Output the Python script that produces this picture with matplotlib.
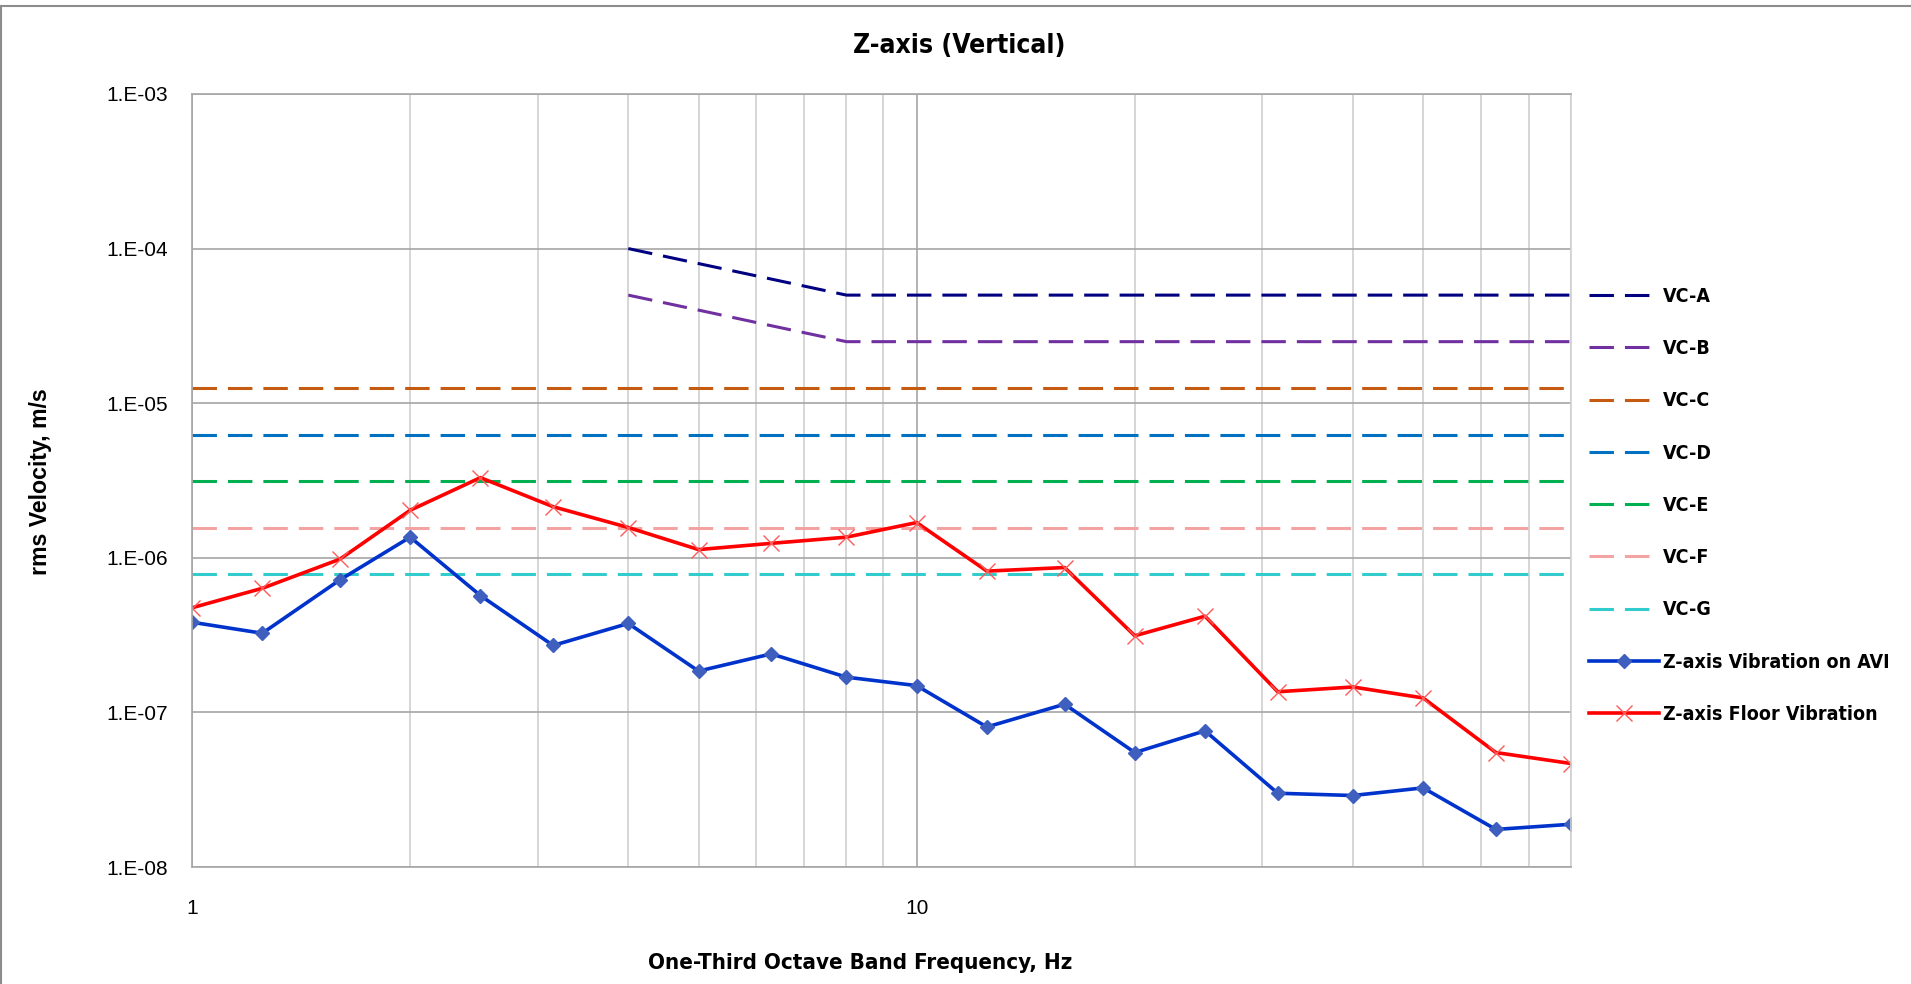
import math

import matplotlib.pyplot as plt
import matplotlib.ticker as mticker
from matplotlib.lines import Line2D

# one-third octave band centre frequencies, Hz
freq = [1, 1.25, 1.6, 2, 2.5, 3.15, 4, 5, 6.3, 8, 10, 12.5, 16, 20, 25, 31.5, 40, 50, 63, 80]

avi = [3.83e-7, 3.25e-7, 7.2e-7, 1.36e-6, 5.7e-7, 2.71e-7, 3.76e-7, 1.85e-7, 2.39e-7, 1.69e-7,
       1.49e-7, 8.05e-8, 1.13e-7, 5.5e-8, 7.6e-8, 3.0e-8, 2.9e-8, 3.25e-8, 1.75e-8, 1.89e-8]
floor = [4.75e-7, 6.35e-7, 9.8e-7, 2.03e-6, 3.3e-6, 2.14e-6, 1.57e-6, 1.13e-6, 1.24e-6, 1.36e-6,
         1.69e-6, 8.2e-7, 8.65e-7, 3.13e-7, 4.19e-7, 1.36e-7, 1.46e-7, 1.24e-7, 5.5e-8, 4.67e-8]

# VC-A / VC-B start at 4 Hz
freq_ab = [4, 5, 6.3, 8, 10, 12.5, 16, 20, 25, 31.5, 40, 50, 63, 80]
vc_a = [1.0e-4, 8.0e-5, 6.35e-5, 5.0e-5] + [5.0e-5] * 10
vc_b = [5.0e-5, 4.0e-5, 3.17e-5, 2.5e-5] + [2.5e-5] * 10

vc_levels = {"VC-C": 1.25e-5, "VC-D": 6.25e-6, "VC-E": 3.12e-6, "VC-F": 1.56e-6, "VC-G": 7.8e-7}

VC_COLORS = {
    "VC-A": "#000080",
    "VC-B": "#7030A0",
    "VC-C": "#C55A11",
    "VC-D": "#0070C0",
    "VC-E": "#00B050",
    "VC-F": "#F4A3A3",
    "VC-G": "#33CCCC",
}

NARROW = dict(family="DejaVu Sans", stretch="condensed", weight="bold")
REGULAR = ["Liberation Sans", "DejaVu Sans"]

dash = (0, (8, 3.6))
lw = 2.2

fig = plt.figure(figsize=(19.11, 9.84), dpi=100)
ax = fig.add_axes([0.1005, 0.1189, 0.7216, 0.7856])

ax.plot(freq_ab, vc_a, color=VC_COLORS["VC-A"], lw=lw, linestyle=dash, label="VC-A")
ax.plot(freq_ab, vc_b, color=VC_COLORS["VC-B"], lw=lw, linestyle=dash, label="VC-B")
for name, level in vc_levels.items():
    ax.plot(freq, [level] * len(freq), color=VC_COLORS[name], lw=lw, linestyle=dash, label=name)

ax.plot(freq, avi, color="#0033CC", lw=2.6, marker="D", markersize=7,
        markerfacecolor="#3F5FBF", markeredgecolor="#3F5FBF", label="Z-axis Vibration on AVI")
ax.plot(freq, floor, color="#FF0000", lw=2.6, marker="x", markersize=12, markeredgewidth=1.0,
        markeredgecolor="#FF5A5A", label="Z-axis Floor Vibration")

ax.set_xscale("log")
ax.set_yscale("log")
ax.set_xlim(1, 80)
ax.set_ylim(1e-8, 1e-3)

ax.xaxis.set_major_locator(mticker.LogLocator(base=10, numticks=10))
ax.xaxis.set_minor_locator(mticker.LogLocator(base=10, subs=range(2, 10), numticks=20))
ax.xaxis.set_major_formatter(mticker.FuncFormatter(lambda v, p: f"{v:g}"))
ax.xaxis.set_minor_formatter(mticker.NullFormatter())
ax.yaxis.set_major_locator(mticker.LogLocator(base=10, numticks=10))
ax.yaxis.set_minor_locator(mticker.NullLocator())
ax.yaxis.set_major_formatter(mticker.FuncFormatter(lambda v, p: "1.E-%02d" % round(-math.log10(v))))

ax.grid(True, which="major", color="#A6A6A6", lw=1.2)
ax.grid(True, which="minor", axis="x", color="#D0D0D0", lw=1.2)
ax.set_axisbelow(True)
ax.tick_params(which="both", length=0)
ax.tick_params(axis="y", pad=17, labelsize=15)
ax.tick_params(axis="x", pad=23, labelsize=15)
for lab in ax.get_xticklabels() + ax.get_yticklabels():
    lab.set_family(REGULAR)
for s in ax.spines.values():
    s.set_color("#A6A6A6")
    s.set_linewidth(1.2)
ax.spines["right"].set_color("#D0D0D0")

fig.text(0.502, 0.953, "Z-axis (Vertical)", ha="center", va="center", fontsize=19, **NARROW)
fig.text(0.450, 0.021, "One-Third Octave Band Frequency, Hz", ha="center", va="center",
         fontsize=16, **NARROW)
fig.text(0.021, 0.511, "rms Velocity, m/s", ha="center", va="center", rotation=90,
         fontsize=16.7, fontweight="bold", family=REGULAR)

leg = ax.legend(loc="upper left", bbox_to_anchor=(1.0, 0.773), frameon=False,
                prop={"family": "DejaVu Sans", "stretch": "condensed", "weight": "bold", "size": 14},
                handlelength=3.6, handletextpad=0.25, labelspacing=1.71)

# chart-area border (top and left visible)
fig.add_artist(Line2D([0, 1], [0.9935, 0.9935], transform=fig.transFigure, color="#8C8C8C", lw=1.5))
fig.add_artist(Line2D([0.0005, 0.0005], [0, 0.9935], transform=fig.transFigure, color="#8C8C8C", lw=1.5))

fig.savefig("out.png", dpi=100)
